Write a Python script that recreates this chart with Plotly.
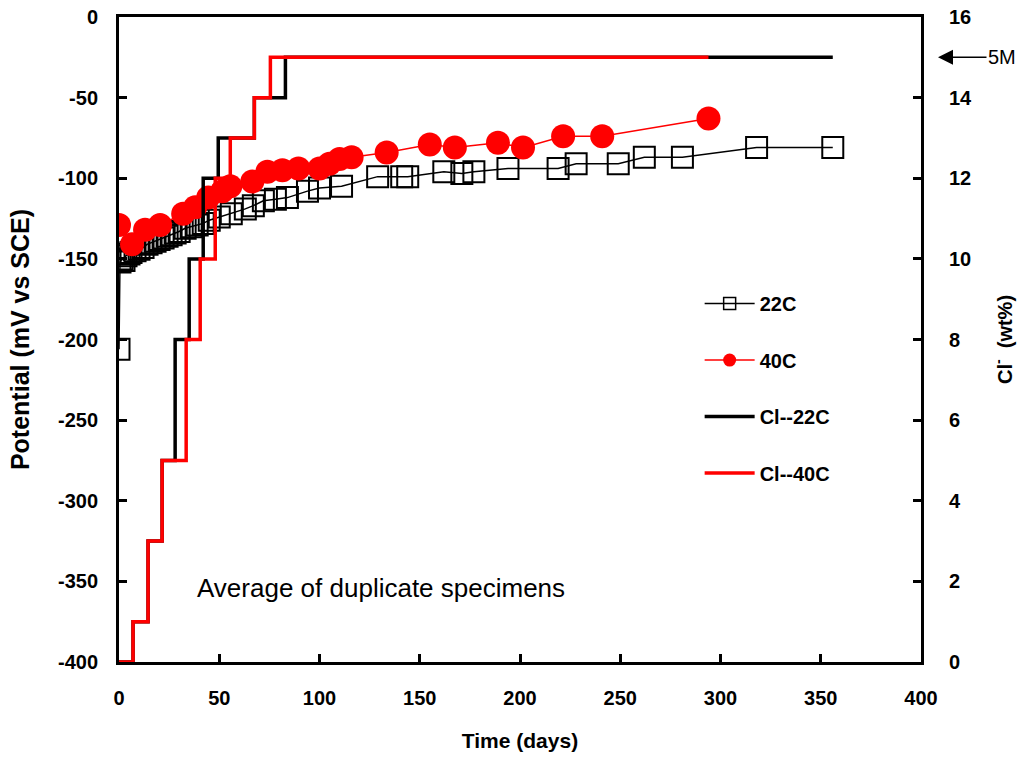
import plotly.graph_objects as go

# ---- data ----
days_22 = [0, 0.5, 1.5, 2.5, 3.5, 5, 6, 8, 10, 12, 14, 16, 18, 20, 22, 24, 26, 28, 30, 33, 36, 39, 42, 45,
           50, 56, 63, 67, 72, 78, 84, 94, 100, 111, 129, 141, 144, 162, 171, 177, 194, 219, 228, 249,
           262, 281, 318, 356]
pot_22 = [-206, -152, -150, -151, -148, -147, -146, -145, -144, -143, -141, -140, -139, -138, -137, -136,
          -135, -134, -133, -131, -130, -129, -128, -126, -124, -122, -119, -117, -114, -113, -112, -108,
          -106, -105, -99, -99, -99, -96, -97, -96, -94, -94, -91, -91, -87, -87, -81, -81]

days_40 = [0, 6.5, 13, 20.5, 32, 38, 44.5, 51.5, 55.5, 66.5, 74, 81.5, 89.5, 100, 105, 110, 116, 133.5,
           155, 167.5, 189, 201.5, 221.5, 241, 294]
pot_40 = [-129, -141, -132, -129, -122, -118, -112, -108, -105, -102, -96, -95, -94, -94, -91, -88, -87,
          -84, -79, -81, -78, -81, -74, -74, -63]

cl_days_22 = [0, 7, 14.5, 21.5, 28, 35, 42, 49.5, 67.5, 83, 356]
cl_22 = [0, 1, 3, 5, 8, 10, 12, 13, 14, 15, 15]
cl_days_40 = [0, 7, 14.5, 21.5, 33.5, 40.5, 48, 55.5, 67.5, 75.5, 294]
cl_40 = [0, 1, 3, 5, 8, 10, 12, 13, 14, 15, 15]

x_ticks = [0, 50, 100, 150, 200, 250, 300, 350, 400]
y_ticks = [0, -50, -100, -150, -200, -250, -300, -350, -400]
y2_ticks = [0, 2, 4, 6, 8, 10, 12, 14, 16]

FONT = "Liberation Sans, Arial, sans-serif"

fig = go.Figure()
# data traces (legend drawn with separate legend-only entries below)
fig.add_trace(go.Scatter(
    x=days_22, y=pot_22, name="22C", mode="lines+markers", showlegend=False,
    line=dict(color="black", width=1.5),
    marker=dict(symbol="square-open", size=21, color="black", line=dict(width=2, color="black")),
))
fig.add_trace(go.Scatter(
    x=days_40, y=pot_40, name="40C", mode="lines+markers", showlegend=False,
    line=dict(color="red", width=1.5),
    marker=dict(symbol="circle", size=24, color="red", line=dict(width=0)),
))
fig.add_trace(go.Scatter(
    x=cl_days_22, y=cl_22, name="Cl--22C", mode="lines", yaxis="y2", showlegend=False,
    line=dict(color="black", width=3.5, shape="hv"),
))
fig.add_trace(go.Scatter(
    x=cl_days_40, y=cl_40, name="Cl--40C", mode="lines", yaxis="y2", showlegend=False,
    line=dict(color="red", width=3.5, shape="hv"),
))

# legend entries
fig.add_trace(go.Scatter(
    x=[None], y=[None], name="22C", mode="lines+markers", legendgroup="a",
    line=dict(color="black", width=1.5),
    marker=dict(symbol="square-open", size=12, color="black", line=dict(width=1.5, color="black")),
))
fig.add_trace(go.Scatter(
    x=[None], y=[None], name="40C", mode="lines+markers", legendgroup="b",
    line=dict(color="red", width=1.5),
    marker=dict(symbol="circle", size=13, color="red", line=dict(width=0)),
))
fig.add_trace(go.Scatter(
    x=[None], y=[None], name="Cl--22C", mode="lines", legendgroup="c",
    line=dict(color="black", width=3.5),
))
fig.add_trace(go.Scatter(
    x=[None], y=[None], name="Cl--40C", mode="lines", legendgroup="d",
    line=dict(color="red", width=3.5),
))

tickfont = dict(family=FONT, size=20, color="black", weight="bold")

fig.update_layout(
    width=1023, height=761,
    margin=dict(l=119, r=102, t=17, b=99),
    plot_bgcolor="white", paper_bgcolor="white",
    font=dict(family=FONT, color="black"),
    showlegend=True,
    legend=dict(
        x=0.724, y=0.586, xanchor="left", yanchor="top",
        font=dict(family=FONT, size=20, color="black", weight="bold"),
        bgcolor="rgba(0,0,0,0)", borderwidth=0,
        traceorder="grouped", tracegroupgap=27.5, itemwidth=50,
    ),
    xaxis=dict(
        range=[0, 400], tickvals=x_ticks, ticktext=[str(v) for v in x_ticks],
        ticks="inside", ticklen=8, tickwidth=2.5, tickcolor="black",
        showline=True, linewidth=3, linecolor="black", mirror=True, automargin=False,
        showgrid=False, zeroline=False, tickfont=tickfont, ticklabelstandoff=16,
        ticklabeloverflow="allow",
        title=dict(text="Time (days)", font=dict(family=FONT, size=21, color="black", weight="bold"),
                   standoff=26),
    ),
    yaxis=dict(
        range=[-400, 0], tickvals=y_ticks, ticktext=[str(v) for v in y_ticks],
        ticks="inside", ticklen=8, tickwidth=2.5, tickcolor="black",
        showline=True, linewidth=3, linecolor="black", automargin=False,
        showgrid=False, zeroline=False, tickfont=tickfont, ticklabelstandoff=14,
        ticklabeloverflow="allow",
        title=dict(text="Potential (mV vs SCE)",
                   font=dict(family=FONT, size=25, color="black", weight="bold"), standoff=22),
    ),
    yaxis2=dict(
        range=[0, 16], tickvals=y2_ticks, ticktext=[str(v) for v in y2_ticks],
        overlaying="y", side="right", automargin=False,
        ticks="inside", ticklen=8, tickwidth=2.5, tickcolor="black",
        showline=True, linewidth=3, linecolor="black",
        showgrid=False, zeroline=False, tickfont=tickfont, ticklabelstandoff=21,
        ticklabeloverflow="allow",
        title=dict(text="Cl<sup>-</sup>  (wt%)",
                   font=dict(family=FONT, size=20, color="black", weight="bold"), standoff=27),
    ),
)

fig.add_annotation(
    x=38, y=-354, xref="x", yref="y", text="Average of duplicate specimens",
    showarrow=False, xanchor="left", yanchor="middle",
    font=dict(family=FONT, size=26, color="black"),
)
fig.add_annotation(
    x=(938 - 119) / 802, y=15, xref="paper", yref="y2", text="5M",
    showarrow=True, ax=64, ay=0, arrowhead=2, arrowsize=2, arrowwidth=1.5,
    arrowcolor="black", standoff=0,
    font=dict(family=FONT, size=20, color="black"),
)

# remove the default 8px page margin so the figure fills the window exactly
fig.write_html("out.html", config={"displayModeBar": False},
               post_script="document.body.style.margin='0px';")
